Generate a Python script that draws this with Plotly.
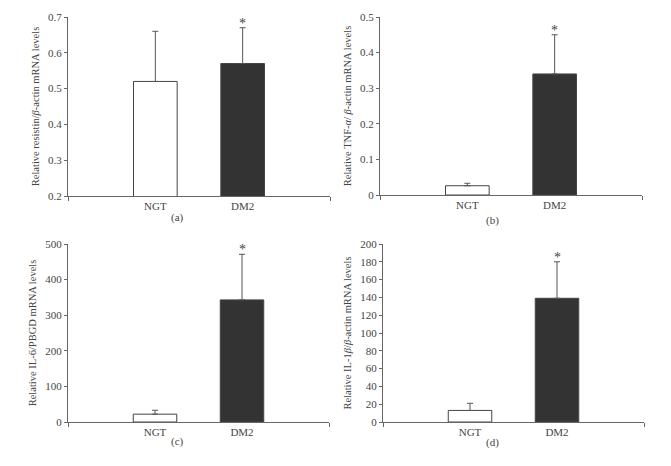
import plotly.graph_objects as go

# the page body adds an 8px offset, so the figure is drawn 8px smaller and shifted
OFF = 8
W, H = 671 - OFF, 466 - OFF

categories = ["NGT", "DM2"]
panel_labels = ["(a)", "(b)", "(c)", "(d)"]
y_titles = [
    "Relative resistin/<i>β</i>-actin mRNA levels",
    "Relative TNF-<i>α</i>/ <i>β</i>-actin mRNA levels",
    "Relative IL-6/PBGD mRNA levels",
    "Relative IL-1<i>β</i>/<i>β</i>-actin mRNA levels",
]
resistin_mean = [0.52, 0.57]
resistin_err = [0.14, 0.10]
tnf_mean = [0.026, 0.34]
tnf_err = [0.007, 0.11]
il6_mean = [22, 343]
il6_err = [11, 128]
il1b_mean = [13, 139]
il1b_err = [8, 41]
significant = [False, True]

means = [resistin_mean, tnf_mean, il6_mean, il1b_mean]
errs = [resistin_err, tnf_err, il6_err, il1b_err]
y_ranges = [[0.2, 0.7], [0, 0.5], [0, 500], [0, 200]]
y_dticks = [0.1, 0.1, 100, 20]
tick_formats = [".1f", "", "", ""]

# pixel boxes in the window (left, right, top, bottom)
boxes = [
    (68, 330, 17, 196),
    (380, 642, 17, 195),
    (68, 329, 244, 422),
    (383, 644, 244, 422),
]
label_pos = [(177, 217), (493, 221), (177, 441), (493, 442)]

FONT = "Liberation Serif"
AX = "#666666"
TXT = "#444444"


def px_x(v):
    return (v - OFF) / W


def px_y(v):
    return 1 - (v - OFF) / H


fig = go.Figure()
layout = dict(
    width=W, height=H, margin=dict(l=0, r=0, t=0, b=0, autoexpand=False),
    paper_bgcolor="white", plot_bgcolor="white", showlegend=False,
    font=dict(family=FONT, size=11, color=TXT),
)
annotations = []
for i in range(4):
    xa = "x" if i == 0 else f"x{i+1}"
    ya = "y" if i == 0 else f"y{i+1}"
    l, r, t, b = boxes[i]
    fig.add_trace(go.Bar(
        x=[0, 1], y=means[i], width=0.5, xaxis=xa, yaxis=ya,
        marker=dict(color=["white", "#333333"], line=dict(color="#444444", width=1)),
        error_y=dict(type="data", symmetric=False, array=errs[i],
                     arrayminus=[0, 0], color="#555555", thickness=1, width=3),
    ))
    xkey = "xaxis" if i == 0 else f"xaxis{i+1}"
    ykey = "yaxis" if i == 0 else f"yaxis{i+1}"
    layout[xkey] = dict(
        domain=[px_x(l), px_x(r)], anchor=ya, range=[-1, 2], automargin=False,
        tickvals=[0, 1], ticktext=categories, ticks="",
        showline=True, linecolor=AX, linewidth=1, showgrid=False, zeroline=False,
        tickfont=dict(family=FONT, size=11, color=TXT),
        minor=dict(tickmode="array", tickvals=[-1, 2], ticks="outside",
                   ticklen=4, tickcolor=AX, showgrid=False),
    )
    layout[ykey] = dict(
        domain=[px_y(b), px_y(t)], anchor=xa, range=y_ranges[i], automargin=False,
        dtick=y_dticks[i], tick0=0, ticks="outside", ticklen=3, tickcolor=AX,
        showline=True, linecolor=AX, linewidth=1, showgrid=False, zeroline=False,
        tickfont=dict(family=FONT, size=11, color=TXT),
        tickformat=tick_formats[i],
        title=dict(text=y_titles[i], font=dict(family=FONT, size=10.5, color=TXT), standoff=6),
    )
    for j in range(2):
        if significant[j]:
            annotations.append(dict(
                x=j, y=means[i][j] + errs[i][j], xref=xa, yref=ya, text="*",
                showarrow=False, yanchor="bottom", yshift=-5,
                font=dict(family=FONT, size=14, color=TXT)))
    lx, ly = label_pos[i]
    annotations.append(dict(
        x=px_x(lx), y=px_y(ly), xref="paper", yref="paper", text=panel_labels[i],
        showarrow=False, xanchor="center", yanchor="middle",
        font=dict(family=FONT, size=11, color=TXT)))

layout["annotations"] = annotations
fig.update_layout(**layout)
fig.write_html("out.html")
